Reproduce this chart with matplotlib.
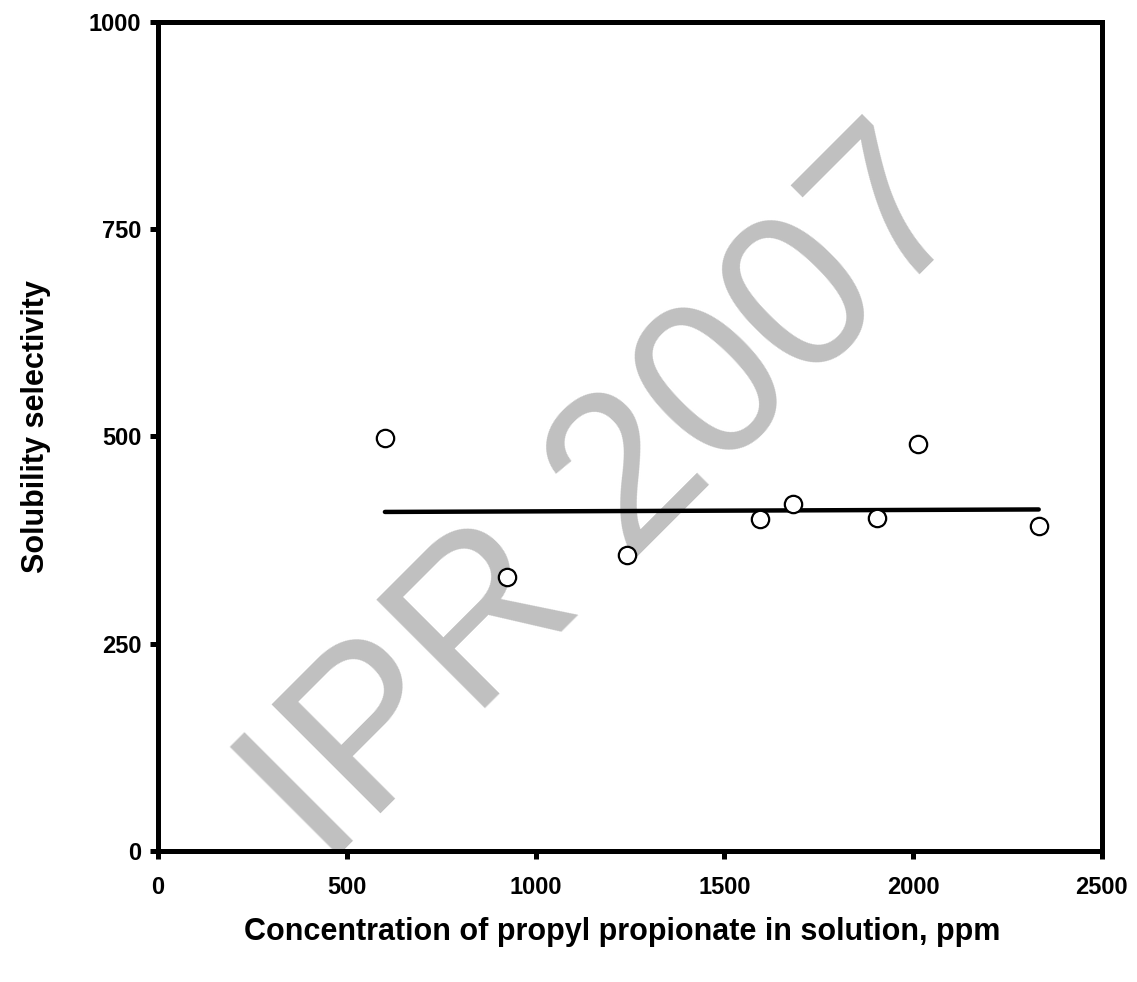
import numpy as np
import matplotlib.pyplot as plt

plt.rcParams['font.family'] = ['Liberation Sans', 'DejaVu Sans']

# measured points: propyl propionate concentration (ppm) vs solubility selectivity
conc = [601, 925, 1241, 1594, 1681, 1905, 2013, 2333]
selectivity = [498, 330, 357, 400, 418, 402, 491, 392]

# fitted line end points as drawn in the figure
fit_x = [601, 2333]
fit_y = [409, 412]

xticks = [0, 500, 1000, 1500, 2000, 2500]
yticks = [0, 250, 500, 750, 1000]

fig = plt.figure(figsize=(11.37, 9.82), dpi=100)
ax = fig.add_axes([0.139, 0.1334, 0.830, 0.8442])

# watermark, clipped to the plot area
ax.text(0.177, -0.023, "IPR 2007", transform=ax.transAxes, rotation=45,
        rotation_mode='anchor', ha='left', va='baseline', fontsize=160,
        color='#c0c0c0', zorder=0, clip_on=True)

ax.plot(fit_x, fit_y, color='black', lw=3.2, solid_capstyle='round', zorder=2)
ax.plot(conc, selectivity, 'o', ms=12.5, mfc='white', mec='black', mew=1.6,
        zorder=3, clip_on=False)

ax.set_xlim(0, 2500)
ax.set_ylim(0, 1000)
ax.set_xticks(xticks)
ax.set_yticks(yticks)
for s in ax.spines.values():
    s.set_linewidth(3.6)
ax.tick_params(direction='out', length=6, width=3.6, labelsize=17)
ax.tick_params(axis='x', pad=12)
ax.tick_params(axis='y', pad=6)
for lab in ax.get_xticklabels() + ax.get_yticklabels():
    lab.set_fontweight('bold')

ax.set_xlabel("Concentration of propyl propionate in solution, ppm",
              fontsize=22, fontweight='bold', va='center')
ax.set_ylabel("Solubility selectivity", fontsize=22, fontweight='bold',
              va='center')
ax.xaxis.set_label_coords(0.4915, -0.0977)
ax.yaxis.set_label_coords(-0.129, 0.5115)

fig.savefig("out.png", dpi=100)
